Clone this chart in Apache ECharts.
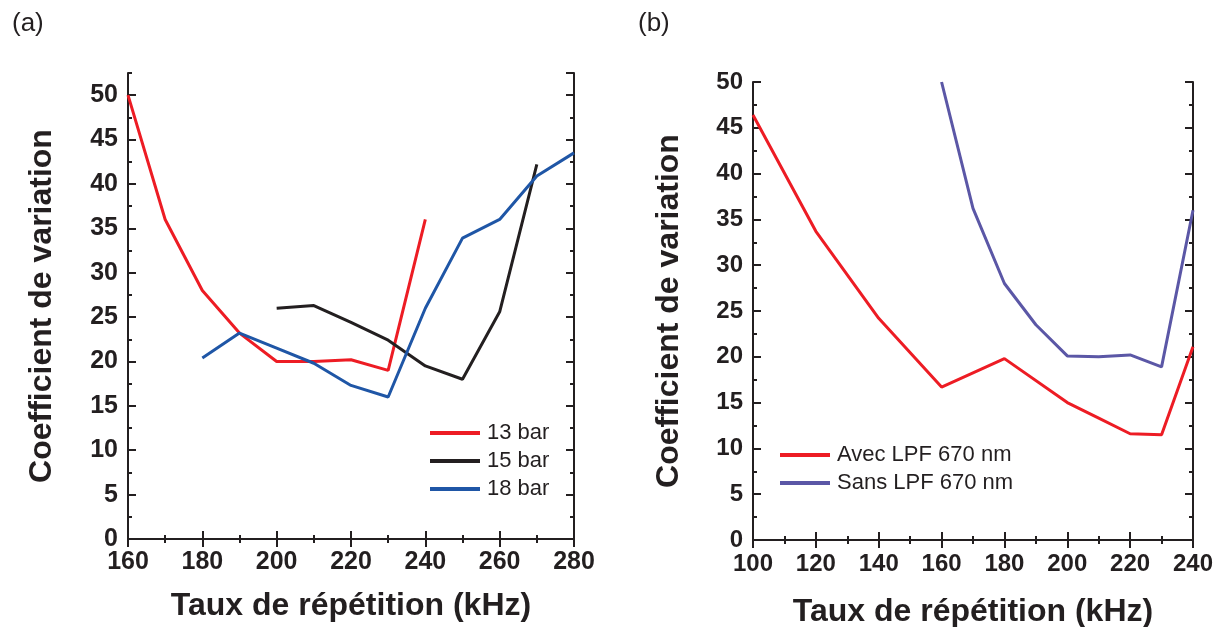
<!DOCTYPE html>
<html><head><meta charset="utf-8">
<script src="https://cdn.jsdelivr.net/npm/echarts@6/dist/echarts.min.js"></script>
<style>html,body{margin:0;padding:0;background:#fff}#c{width:1217px;height:627px}</style>
</head><body><div id="c"></div>
<script>
// Panel (a)
const rateA = [160, 170, 180, 190, 200, 210, 220, 230, 240, 250, 260, 270, 280];
const bar13 = [50, 36, 28, 23.2, 20, 20, 20.2, 19, 36, null, null, null, null];
const bar15 = [null, null, null, null, 26, 26.3, 24.4, 22.4, 19.5, 18, 25.6, 42.2, null];
const bar18 = [null, null, 20.4, 23.2, 21.5, 19.8, 17.3, 16, 26, 33.9, 36, 40.9, 43.5];
// Panel (b)
const avecX = [100, 120, 140, 160, 180, 200, 210, 220, 230, 240];
const avecY = [46.4, 33.7, 24.2, 16.7, 19.8, 15.0, 13.3, 11.6, 11.5, 21.1];
const sansX = [160, 170, 180, 190, 200, 210, 220, 230, 240];
const sansY = [50, 36.2, 28, 23.5, 20.1, 20, 20.2, 18.9, 36];

const namesA = ['13 bar', '15 bar', '18 bar'];
const namesB = ['Avec LPF 670 nm', 'Sans LPF 670 nm'];
const yTitle = 'Coefficient de variation';
const xTitle = 'Taux de répétition (kHz)';

const INK = '#231f20';
const FF = "'Liberation Sans', Arial, sans-serif";
const pair = (xs, ys) => xs.map((x, i) => [x, ys[i]]).filter(p => p[1] !== null);

const frameLine = { show: true, lineStyle: { color: INK, width: 2 } };
function ax(extra) {
  return Object.assign({
    type: 'value', axisLine: frameLine,
    axisTick: { show: true, inside: true, length: 8, lineStyle: { color: INK, width: 2 } },
    axisLabel: { show: false },
    splitLine: { show: false }
  }, extra);
}
const lbl = (size, m) => ({ show: true, color: INK, fontSize: size, fontWeight: 'bold', fontFamily: FF, margin: m });
const nameStyle = { color: INK, fontSize: 32, fontWeight: 'bold', fontFamily: FF };
const minor = { show: true, splitNumber: 2, length: 4, lineStyle: { color: INK, width: 2 } };

const chart = echarts.init(document.getElementById('c'));
chart.setOption({
  animation: false,
  backgroundColor: '#fff',
  grid: [
    { left: 128, top: 73, width: 446, height: 466, outerBoundsMode: 'none', containLabel: false },
    { left: 128, top: 73, width: 446, height: 466, outerBoundsMode: 'none', containLabel: false },
    { left: 753, top: 82, width: 440, height: 458, outerBoundsMode: 'none', containLabel: false }
  ],
  xAxis: [
    ax({ gridIndex: 0, position: 'bottom', min: 160, max: 280, interval: 20, minorTick: minor,
         axisLabel: lbl(25, 11), name: xTitle, nameLocation: 'middle', nameGap: 51, nameTextStyle: nameStyle }),
    ax({ gridIndex: 0, position: 'top', min: 160, max: 280, interval: 20, minorTick: minor }),
    ax({ gridIndex: 1, show: false, min: 160, max: 280 }),
    ax({ gridIndex: 2, position: 'bottom', min: 100, max: 240, interval: 20, minorTick: minor,
         axisLabel: lbl(24, 12), name: xTitle, nameLocation: 'middle', nameGap: 56, nameTextStyle: nameStyle }),
    ax({ gridIndex: 2, position: 'top', min: 100, max: 240, interval: 20, minorTick: minor })
  ],
  yAxis: [
    ax({ gridIndex: 0, position: 'left', min: 0, max: 52.5, interval: 5,
         axisLabel: Object.assign(lbl(25, 10), { showMaxLabel: false }),
         name: yTitle, nameLocation: 'middle', nameGap: 70, nameTextStyle: nameStyle }),
    ax({ gridIndex: 0, position: 'right', min: 0, max: 52.5, interval: 5 }),
    ax({ gridIndex: 1, position: 'left', min: 0, max: 52.5, interval: 2.5, axisLine: { show: false },
         axisTick: { show: true, inside: true, length: 4, lineStyle: { color: INK, width: 2 } } }),
    ax({ gridIndex: 1, position: 'right', min: 0, max: 52.5, interval: 2.5, axisLine: { show: false },
         axisTick: { show: true, inside: true, length: 4, lineStyle: { color: INK, width: 2 } } }),
    ax({ gridIndex: 2, position: 'left', min: 0, max: 50, interval: 5, minorTick: minor,
         axisLabel: lbl(24, 10), name: yTitle, nameLocation: 'middle', nameGap: 68, nameTextStyle: nameStyle }),
    ax({ gridIndex: 2, position: 'right', min: 0, max: 50, interval: 5, minorTick: minor })
  ],
  legend: [
    { data: namesA, orient: 'vertical', left: 430, top: 422, icon: 'rect', itemWidth: 50, itemHeight: 4, itemGap: 6, padding: 0,
      textStyle: { fontSize: 22, color: INK, fontFamily: FF, padding: [0, 0, 0, 2] } },
    { data: namesB, orient: 'vertical', left: 780, top: 444, icon: 'rect', itemWidth: 50, itemHeight: 4, itemGap: 6, padding: 0,
      textStyle: { fontSize: 22, color: INK, fontFamily: FF, padding: [0, 0, 0, 2] } }
  ],
  graphic: [
    { type: 'text', left: 12, top: 11, style: { text: '(a)', fontSize: 26, fontFamily: FF, fill: INK } },
    { type: 'text', left: 638, top: 11, style: { text: '(b)', fontSize: 26, fontFamily: FF, fill: INK } }
  ],
  series: [
    { name: namesA[0], type: 'line', xAxisIndex: 0, yAxisIndex: 0, symbol: 'none', data: pair(rateA, bar13),
      lineStyle: { color: '#ed1c24', width: 3 }, itemStyle: { color: '#ed1c24' } },
    { name: namesA[1], type: 'line', xAxisIndex: 0, yAxisIndex: 0, symbol: 'none', data: pair(rateA, bar15),
      lineStyle: { color: INK, width: 3 }, itemStyle: { color: INK } },
    { name: namesA[2], type: 'line', xAxisIndex: 0, yAxisIndex: 0, symbol: 'none', data: pair(rateA, bar18),
      lineStyle: { color: '#1f56a6', width: 3 }, itemStyle: { color: '#1f56a6' } },
    { name: namesB[0], type: 'line', xAxisIndex: 3, yAxisIndex: 4, symbol: 'none', data: pair(avecX, avecY),
      lineStyle: { color: '#ed1c24', width: 3 }, itemStyle: { color: '#ed1c24' } },
    { name: namesB[1], type: 'line', xAxisIndex: 3, yAxisIndex: 4, symbol: 'none', data: pair(sansX, sansY),
      lineStyle: { color: '#5b57a6', width: 3 }, itemStyle: { color: '#5b57a6' } }
  ]
});
</script></body></html>
